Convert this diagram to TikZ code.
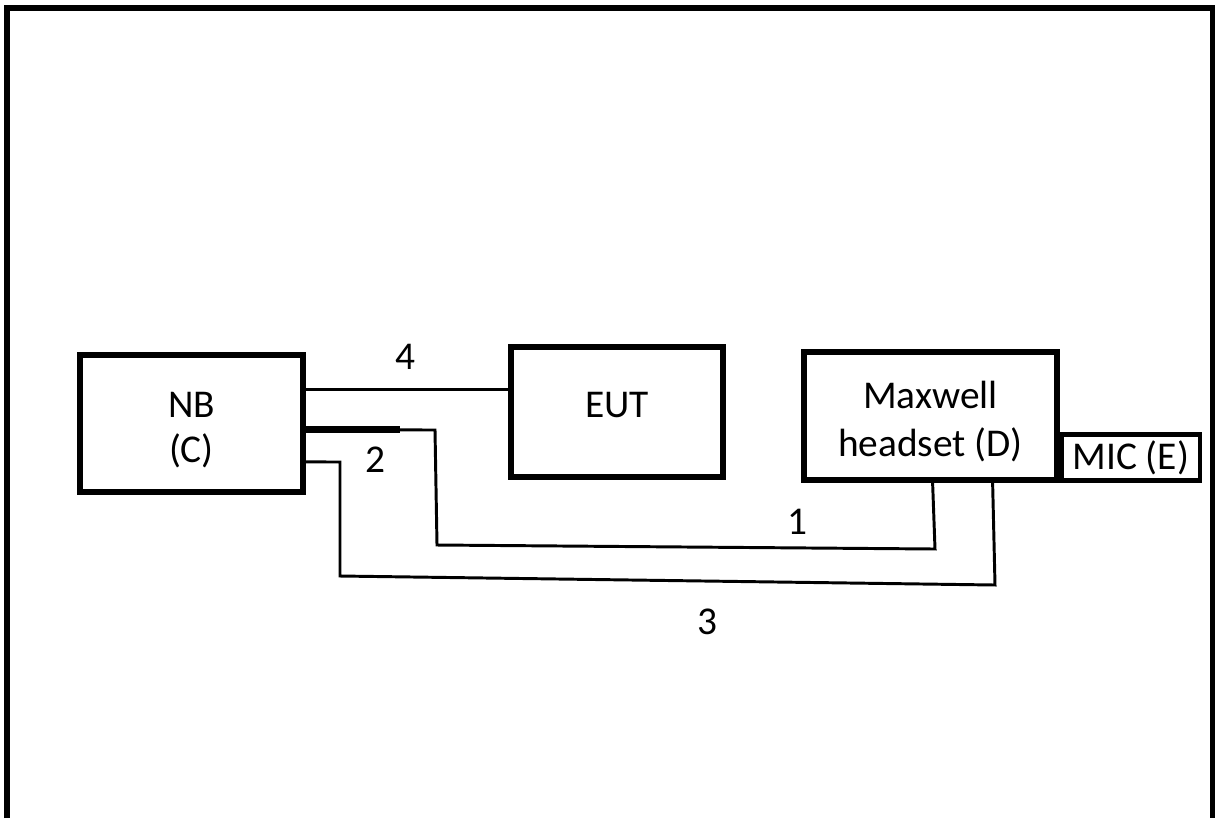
\documentclass[tikz,border=0pt]{standalone}
\usepackage{fontspec}
\setmainfont{Carlito}
\usetikzlibrary{positioning}

\newcommand{\boxtext}[3]{\raisebox{#1}[0pt][0pt]{\fontsize{28}{#2}\selectfont\begin{tabular}{@{}c@{}}#3\end{tabular}}}

\begin{document}
\begin{tikzpicture}[
  x=0.025cm, y=-0.025cm,
  box/.style={
    rectangle,
    draw,
    line width=3.7pt,
    inner sep=0pt,
    align=center,
    font=\fontsize{28}{34}\selectfont
  },
  wire/.style={line width=2.1pt},
  lbl/.style={font=\fontsize{28}{34}\selectfont}
]
\useasboundingbox (0,0) rectangle (1215,818);

% --- frame ---
\draw[line width=4.3pt] (7,818) -- (7,8) -- (1213,8) -- (1213,818);

% --- boxes ---
\node[box, minimum width=5.575cm, minimum height=3.425cm] (nb) at (191.5,423.5) {\boxtext{-0.41cm}{32}{NB\\(C)}};
\node[box, minimum width=5.3cm, minimum height=3.25cm] (eut) at (617,412) {\boxtext{-0.12cm}{34}{EUT}};
\node[box, minimum width=6.325cm, minimum height=3.2cm] (mx) at (930.5,416) {\boxtext{-0.39cm}{34}{Maxwell\\headset (D)}};
\node[box, line width=3pt, minimum width=3.45cm, minimum height=1.15cm, anchor=south west] (mic) at (mx.south east) {MIC (E)};

% --- cables ---
\coordinate (n4) at ([yshift=0.84cm]nb.east);
\coordinate (n2) at ([yshift=-0.16cm]nb.east);
\coordinate (n3) at ([yshift=-0.96cm]nb.east);
\coordinate (m1) at ([xshift=3.28cm]mx.south west);
\coordinate (m3) at ([xshift=4.78cm]mx.south west);

\draw[wire] (n4) -- (n4 -| eut.west);
\draw[line width=5pt] (n2) -- ++(94,0) coordinate (k2);
\draw[wire] (k2) -- (435,430) -- (437,545) -- (935,549) -- (m1);
\draw[wire] (n3) -- (340,462) -- (340,576) -- (995,585) -- (m3);

% --- cable numbers ---
\node[lbl] (l4) at (405,357) {4};
\node[lbl] (l2) at (375,460) {2};
\node[lbl] (l1) at (797,522) {1};
\node[lbl] (l3) at (707,622) {3};

\end{tikzpicture}
\end{document}
